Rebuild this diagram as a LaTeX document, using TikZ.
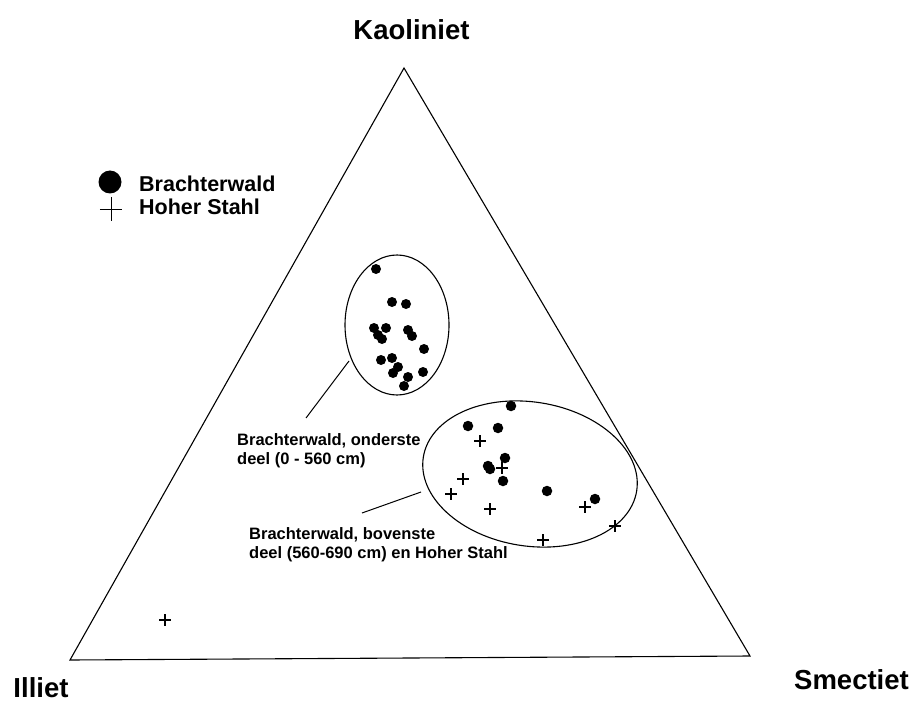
\documentclass[tikz,border=0pt]{standalone}
\usepackage{fontspec}
\setmainfont{Liberation Sans}
\usetikzlibrary{shapes.geometric}
\begin{document}
\begin{tikzpicture}[x=1pt,y=-1pt,
  dot/.style={circle,fill=black,inner sep=0pt,minimum size=10.5pt},
  cross/.style={inner sep=0pt,minimum size=12pt,path picture={\draw[line width=1.8pt]
     (path picture bounding box.north) -- (path picture bounding box.south)
     (path picture bounding box.west) -- (path picture bounding box.east);}},
  title/.style={font=\fontsize{27.5}{32}\selectfont\bfseries,inner sep=0pt},
  legtxt/.style={font=\fontsize{21.5}{24}\selectfont\bfseries,anchor=west,inner sep=0pt},
  lbl/.style={font=\fontsize{16.5}{19.5}\selectfont\bfseries,anchor=north west,inner sep=0pt,align=left},
  frame/.style={line width=1.1pt}]
\useasboundingbox (0,0) rectangle (912,703);
\fill[white] (0,0) rectangle (912,703);
% triangle
\coordinate (K) at (404,68);
\coordinate (I) at (70,660);
\coordinate (S) at (750,656);
\draw[frame] (K) -- (I) -- (S) -- cycle;
% titles
\node[title] (tK) at (411.5,29.5) {Kaoliniet};
\node[title] (tI) at (41,687.5) {Illiet};
\node[title] (tS) at (851.5,680) {Smectiet};
% legend
\node[dot,minimum size=23pt] (legdot) at (110,182) {};
\node[legtxt] (legB) at (139,183.5) {Brachterwald};
\node[inner sep=0pt,minimum width=22pt,minimum height=24pt] (legcross) at (111,209) {};
\draw[line width=0.8pt] (legcross.north) -- (legcross.south) (legcross.west) -- (legcross.east);
\node[legtxt] (legH) at (139,206.5) {Hoher Stahl};
% ellipses
\node[draw,frame,ellipse,inner sep=0pt,minimum width=104pt,minimum height=140pt] (E1) at (397,325) {};
\draw[frame] (530,474) ellipse [x radius=108, y radius=72, rotate=-9];
\coordinate (E2c) at (530,474);
% upper cluster points
\foreach \px/\py [count=\i] in {376/269,392/302,406/304,374/328,386/328,378/335,382/339,
  408/330,412/336,424/349,381/360,392/358,398/367,393/373,408/377,404/386,423/372}
  \node[dot,minimum size=10pt] (u\i) at (\px,\py) {};
% lower cluster dots
\foreach \px/\py [count=\i] in {511/406,468/426,498/428,505/458,488/466,490/469,503/481,547/491,595/499}
  \node[dot] (l\i) at (\px,\py) {};
% crosses
\foreach \px/\py [count=\i] in {480/441,502/468,463/479,451/494,490/509,585/507,615/526,543/540,165/620}
  \node[cross] (c\i) at (\px,\py) {};
% labels
\node[lbl] (lab1) at (237,433) {Brachterwald, onderste\\deel (0 - 560 cm)};
\node[lbl] (lab2) at (249,527) {Brachterwald, bovenste\\deel (560-690 cm) en Hoher Stahl};
\coordinate (a1) at (306,418);
\coordinate (b1) at (349,361);
\draw[line width=1pt] (a1) -- (b1);
\coordinate (a2) at (362,513);
\coordinate (b2) at (421,492);
\draw[line width=1pt] (a2) -- (b2);
\end{tikzpicture}
\end{document}
